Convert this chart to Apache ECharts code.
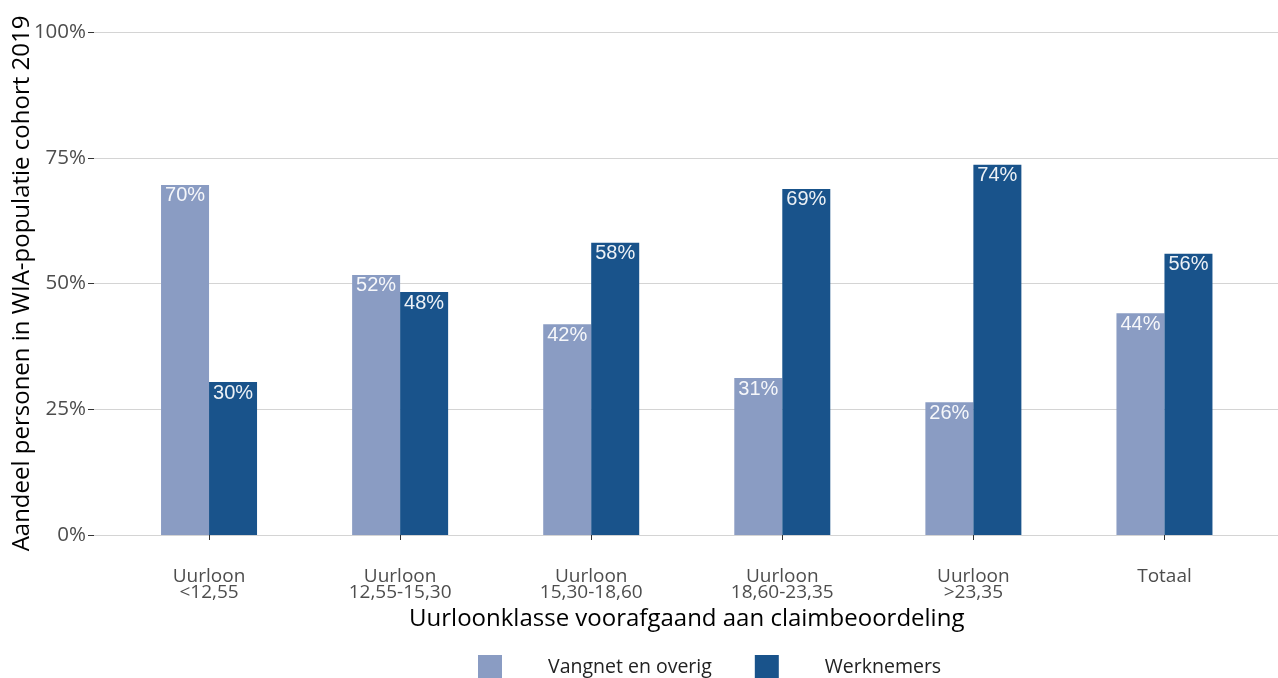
<!DOCTYPE html>
<html>
<head>
<meta charset="utf-8">
<script src="https://cdn.jsdelivr.net/npm/echarts@6/dist/echarts.min.js"></script>
<style>
  html, body { margin: 0; padding: 0; background: #fff; }
  #chart { width: 1278px; height: 678px; }
</style>
</head>
<body>
<div id="chart"></div>
<script>
var categories = ['Uurloon\n<12,55', 'Uurloon\n12,55-15,30', 'Uurloon\n15,30-18,60', 'Uurloon\n18,60-23,35', 'Uurloon\n>23,35', 'Totaal'];
var vangnet = [69.6, 51.7, 41.9, 31.2, 26.4, 44.1];
var werknemers = [30.4, 48.3, 58.1, 68.8, 73.6, 55.9];
var yTicks = [0, 25, 50, 75, 100];

var FONT = '"Open Sans", "Noto Sans", sans-serif';
var chart = echarts.init(document.getElementById('chart'));

function barLabel() {
	return {
		show: true,
		position: 'insideTop',
		distance: 1,
		color: 'rgba(255,255,255,0.92)',
		fontFamily: '"Liberation Sans", Arial, sans-serif',
		fontSize: 20,
		formatter: function(p) { return Math.round(p.value) + '%'; }
	};
}

chart.setOption({
	animation: false,
	// grid 0: full width, only gridlines + y labels; grid 1: bars with ggplot-like padding
	grid: [
		{ left: 94, right: 0, top: 32, bottom: 143, outerBoundsMode: 'none' },
		{ left: 113.5, right: 18, top: 32, bottom: 143, outerBoundsMode: 'none' }
	],
	legend: {
		top: 655,
		left: 478,
		padding: 0,
		itemWidth: 24,
		itemHeight: 24,
		itemGap: 43,
		icon: 'rect',
		textStyle: { fontFamily: FONT, fontSize: 19.5, color: '#222', padding: [0, 0, 0, 41] },
		data: ['Vangnet en overig', 'Werknemers']
	},
	xAxis: [
		{ gridIndex: 0, type: 'category', data: categories, show: false },
		{
			gridIndex: 1,
			type: 'category',
			data: categories,
			offset: 25,
			axisLine: { show: false },
			axisTick: { show: true, alignWithLabel: true, length: 5, lineStyle: { color: '#333' } },
			axisLabel: { margin: 9, fontFamily: FONT, fontSize: 19, color: '#4d4d4d', lineHeight: 16 },
			name: 'Uurloonklasse voorafgaand aan claimbeoordeling',
			nameLocation: 'middle',
			nameGap: 45,
			nameTextStyle: { fontFamily: FONT, fontSize: 24, color: '#000' }
		}
	],
	yAxis: [
		{
			gridIndex: 0,
			type: 'value',
			min: yTicks[0],
			max: yTicks[yTicks.length - 1],
			interval: 25,
			axisLine: { show: false },
			axisTick: { show: true, length: 6, lineStyle: { color: '#333' } },
			axisLabel: { margin: 8, fontFamily: FONT, fontSize: 20.5, color: '#4d4d4d', formatter: '{value}%' },
			splitLine: { lineStyle: { color: '#d4d4d4', width: 1 } },
			name: 'Aandeel personen in WIA-populatie cohort 2019',
			nameLocation: 'middle',
			nameRotate: 90,
			nameGap: 60,
			nameMoveOverlap: false,
			nameTextStyle: { fontFamily: FONT, fontSize: 24, color: '#000' }
		},
		{ gridIndex: 1, type: 'value', min: 0, max: 100, show: false, splitLine: { show: false } }
	],
	series: [
		{
			name: 'Vangnet en overig',
			type: 'bar',
			xAxisIndex: 1,
			yAxisIndex: 1,
			data: vangnet,
			barWidth: 48,
			barGap: '0%',
			itemStyle: { color: '#8a9cc3' },
			label: barLabel()
		},
		{
			name: 'Werknemers',
			type: 'bar',
			xAxisIndex: 1,
			yAxisIndex: 1,
			data: werknemers,
			barWidth: 48,
			barGap: '0%',
			itemStyle: { color: '#19538b' },
			label: barLabel()
		}
	]
});
</script>
</body>
</html>
